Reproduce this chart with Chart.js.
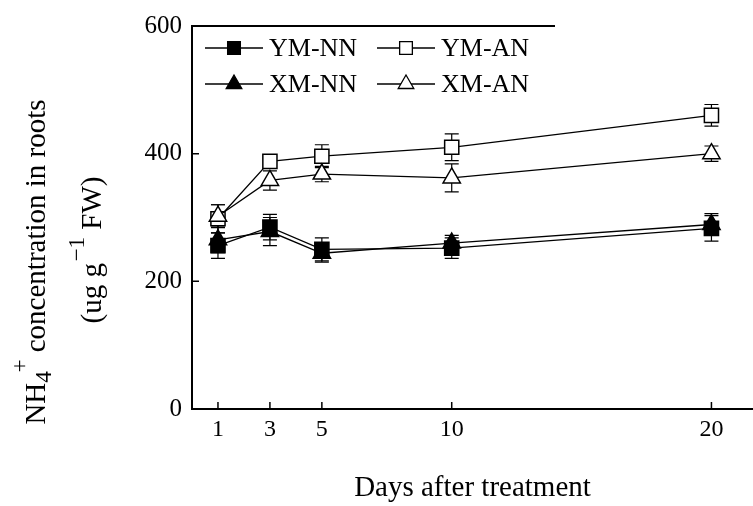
<!DOCTYPE html>
<html>
<head>
<meta charset="utf-8">
<script src="https://cdn.jsdelivr.net/npm/chart.js@4.4.1/dist/chart.umd.min.js"></script>
<style>
  html, body { margin: 0; padding: 0; background: #fff; }
  #wrap { width: 753px; height: 506px; }
</style>
</head>
<body>
<div id="wrap"><canvas id="c"></canvas></div>
<script>
const days = [1, 3, 5, 10, 20];
const yTicks = [0, 200, 400, 600];

const ymNN = [256, 285, 250, 252, 283];
const ymNNErr = [20, 20, 18, 16, 20];
const xmNN = [265, 278, 244, 260, 289];
const xmNNErr = [20, 22, 14, 12, 17];
const ymAN = [298, 388, 396, 410, 460];
const ymANErr = [22, 10, 18, 21, 17];
const xmAN = [302, 358, 368, 362, 400];
const xmANErr = [18, 15, 12, 22, 12];

const serif = '"Liberation Serif", "DejaVu Serif", serif';

function series(label, values, errs, style, fill) {
  return {
    label,
    data: values.map((v, i) => ({ x: days[i], y: v })),
    err: errs,
    borderColor: '#000',
    borderWidth: 1.3,
    backgroundColor: fill,
    pointStyle: style,
    pointRadius: 10,
    pointHoverRadius: 10,
    pointBorderWidth: 1.5,
    pointBackgroundColor: fill,
    pointBorderColor: '#000',
    tension: 0,
    clip: false
  };
}

// error bars go under the markers
const errorBars = {
  id: 'errorBars',
  beforeDatasetsDraw(chart) {
    const { ctx, scales: { x, y } } = chart;
    ctx.save();
    ctx.strokeStyle = '#000';
    ctx.lineWidth = 1.2;
    chart.data.datasets.forEach(ds => {
      ds.data.forEach((p, i) => {
        const px = x.getPixelForValue(p.x);
        const top = y.getPixelForValue(p.y + ds.err[i]);
        const bot = y.getPixelForValue(p.y - ds.err[i]);
        ctx.beginPath();
        ctx.moveTo(px, top); ctx.lineTo(px, bot);
        ctx.moveTo(px - 7, top); ctx.lineTo(px + 7, top);
        ctx.moveTo(px - 7, bot); ctx.lineTo(px + 7, bot);
        ctx.stroke();
      });
    });
    ctx.restore();
  }
};

function drawRuns(ctx, cx, cy, size, runs) {
  // runs: [text, scale, baseline shift in em, x shift in em]
  ctx.save();
  ctx.translate(cx, cy);
  ctx.rotate(-Math.PI / 2);
  ctx.fillStyle = '#000';
  ctx.textBaseline = 'alphabetic';
  let total = 0;
  runs.forEach(r => {
    ctx.font = `${size * r[1]}px ${serif}`;
    total += ctx.measureText(r[0]).width + (r[3] || 0) * size;
  });
  let pos = -total / 2;
  runs.forEach(r => {
    ctx.font = `${size * r[1]}px ${serif}`;
    pos += (r[3] || 0) * size;
    ctx.fillText(r[0], pos, r[2] * size);
    pos += ctx.measureText(r[0]).width;
  });
  ctx.restore();
}

const decorations = {
  id: 'decorations',
  afterDraw(chart) {
    const { ctx, chartArea: a, scales: { x, y } } = chart;
    ctx.save();
    ctx.strokeStyle = '#000';
    ctx.lineWidth = 1.5;
    // inward tick marks
    ctx.beginPath();
    yTicks.forEach(v => {
      const py = y.getPixelForValue(v);
      ctx.moveTo(a.left, py); ctx.lineTo(a.left + 7, py);
    });
    days.forEach(d => {
      const px = x.getPixelForValue(d);
      ctx.moveTo(px, a.bottom); ctx.lineTo(px, a.bottom - 7);
    });
    ctx.stroke();

    // legend box top edge
    ctx.lineWidth = 2;
    ctx.beginPath();
    ctx.moveTo(a.left, a.top); ctx.lineTo(a.left + 363, a.top);
    ctx.stroke();

    // legend entries
    const entries = [
      ['YM-NN', 'rect', '#000', 0, 0],
      ['YM-AN', 'rect', '#fff', 1, 0],
      ['XM-NN', 'triangle', '#000', 0, 1],
      ['XM-AN', 'triangle', '#fff', 1, 1]
    ];
    ctx.font = `26px ${serif}`;
    ctx.textBaseline = 'middle';
    entries.forEach(([label, style, fill, col, row]) => {
      const x0 = a.left + 13 + col * 172;
      const yy = a.top + 22 + row * 36;
      ctx.lineWidth = 1.3;
      ctx.beginPath();
      ctx.moveTo(x0, yy); ctx.lineTo(x0 + 58, yy);
      ctx.stroke();
      ctx.fillStyle = fill;
      ctx.strokeStyle = '#000';
      Chart.helpers.drawPoint(ctx, { pointStyle: style, radius: 9, borderWidth: 1.5, rotation: 0 }, x0 + 29, yy);
      ctx.fillStyle = '#000';
      ctx.fillText(label, x0 + 64, yy + 1);
    });

    // y axis title, two rotated lines with sub/superscripts
    drawRuns(ctx, 45, 262, 29, [
      ['NH', 1, 0], ['4', 0.8, 0.22], ['+', 0.8, -0.62, -0.05],
      [' concentration in roots', 1, 0]
    ]);
    drawRuns(ctx, 101, 250, 29, [
      ['(ug g', 1, 0], ['\u22121', 0.8, -0.6, 0.05], [' FW)', 1, 0]
    ]);
    ctx.restore();
  }
};

new Chart(document.getElementById('c'), {
  type: 'line',
  data: {
    datasets: [
      series('XM-AN', xmAN, xmANErr, 'triangle', '#fff'),
      series('YM-AN', ymAN, ymANErr, 'rect', '#fff'),
      series('XM-NN', xmNN, xmNNErr, 'triangle', '#000'),
      series('YM-NN', ymNN, ymNNErr, 'rect', '#000')
    ]
  },
  options: {
    responsive: true,
    maintainAspectRatio: false,
    animation: false,
    events: [],
    layout: { autoPadding: false, padding: { top: 26, right: 0, left: 0, bottom: 0 } },
    plugins: {
      legend: { display: false },
      tooltip: { enabled: false }
    },
    scales: {
      x: {
        type: 'linear',
        min: 0,
        max: 21.6,
        afterBuildTicks: (s) => { s.ticks = days.map(v => ({ value: v })); },
        afterFit: (s) => { s.height = 97; s.paddingLeft = 0; s.paddingRight = 0; },
        grid: { display: false, drawTicks: false },
        border: { display: true, color: '#000', width: 2 },
        ticks: {
          color: '#000',
          font: { family: serif, size: 24 },
          padding: 6,
          autoSkip: false,
          maxRotation: 0
        },
        title: {
          display: true,
          text: 'Days after treatment',
          color: '#000',
          font: { family: serif, size: 29 },
          padding: { top: 0, bottom: 0 }
        }
      },
      y: {
        min: 0,
        max: 600,
        afterBuildTicks: (s) => { s.ticks = yTicks.map(v => ({ value: v })); },
        afterFit: (s) => { s.width = 192; s.paddingTop = 0; s.paddingBottom = 0; },
        grid: { display: false, drawTicks: false },
        border: { display: true, color: '#000', width: 2 },
        ticks: {
          color: '#000',
          font: { family: serif, size: 25 },
          padding: 10
        }
      }
    }
  },
  plugins: [errorBars, decorations]
});
</script>
</body>
</html>
